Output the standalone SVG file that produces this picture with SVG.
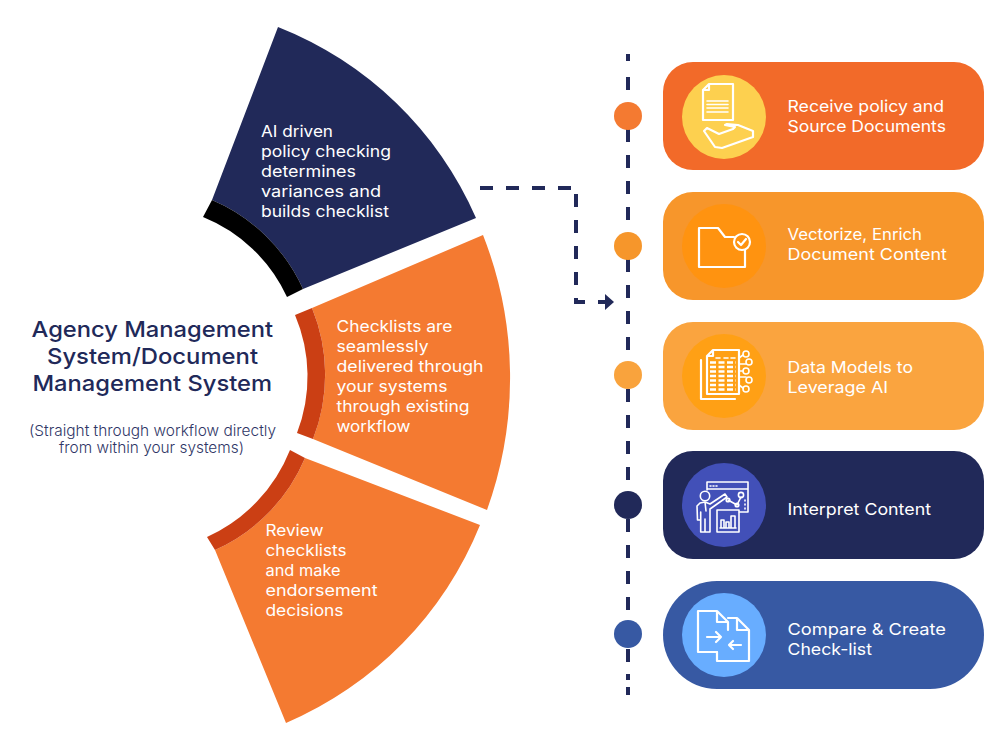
<svg xmlns="http://www.w3.org/2000/svg" width="1000" height="756" viewBox="0 0 1000 756">
<style>
text{font-family:"Inter","Open Sans","Liberation Sans",sans-serif;fill:#fff;font-size:16px}
.t{fill:#212959;font-size:22px;font-weight:500}
.s{fill:#2f3666;font-size:15px;font-weight:300}
.c{font-size:16.5px}
.navy{fill:#212959}.org{fill:#f47a31}.band{fill:#cb3f14}
.dash{fill:none;stroke:#212959;stroke-width:4}
.dd{stroke-dasharray:13 13}
.i{fill:none;stroke:#fff;stroke-width:1.6;stroke-linejoin:round;stroke-linecap:round}
.i2{fill:none;stroke:#fff;stroke-width:2.2;stroke-linejoin:round;stroke-linecap:round}
</style>
<defs>
<marker id="arrow" markerUnits="userSpaceOnUse" markerWidth="10" markerHeight="18" refX="1" refY="9" orient="auto"><path d="M0 1L9 9L0 17Z" fill="#212959"/></marker>
</defs>

<g id="connectors">
<path class="dash dd" d="M628 77V662"/>
<path class="dash" d="M628 54V61M628 674V680M628 687V695"/>
<path class="dash dd" d="M480 188H571"/>
<path class="dash dd" d="M576 194V285"/>
<path class="dash" d="M576 298V302H585"/>
<path class="dash" d="M598 302H606" marker-end="url(#arrow)"/>
</g>

<g id="sector-ai">
<path class="navy" d="M278 27A360 360 0 0 1 476 218L303 289A175 175 0 0 0 212 200Z"/>
<path fill="#000" d="M212 200A175 175 0 0 1 303 289L287 297A157 157 0 0 0 203 217Z"/>
<text x="261" y="137" textLength="72" lengthAdjust="spacingAndGlyphs">AI driven</text>
<text x="261" y="157" textLength="130" lengthAdjust="spacingAndGlyphs">policy checking</text>
<text x="261" y="177" textLength="95" lengthAdjust="spacingAndGlyphs">determines</text>
<text x="261" y="197" textLength="120" lengthAdjust="spacingAndGlyphs">variances and</text>
<text x="261" y="217" textLength="128" lengthAdjust="spacingAndGlyphs">builds checklist</text>
</g>

<g id="sector-delivery">
<path class="org" d="M483 235A390 390 0 0 1 487 510L313 439A176 176 0 0 0 312 308Z"/>
<path class="band" d="M312 308A176 176 0 0 1 313 439L297 433A157 157 0 0 0 295 315Z"/>
<text x="336.500" y="332" textLength="116" lengthAdjust="spacingAndGlyphs">Checklists are</text>
<text x="336.500" y="352" textLength="92" lengthAdjust="spacingAndGlyphs">seamlessly</text>
<text x="336.500" y="372" textLength="147" lengthAdjust="spacingAndGlyphs">delivered through</text>
<text x="336.500" y="392" textLength="111" lengthAdjust="spacingAndGlyphs">your systems</text>
<text x="336.500" y="412" textLength="133" lengthAdjust="spacingAndGlyphs">through existing</text>
<text x="336.500" y="432" textLength="74" lengthAdjust="spacingAndGlyphs">workflow</text>
</g>

<g id="sector-review">
<path class="org" d="M480 525A363 363 0 0 1 286 723L215 550A175 175 0 0 0 305 458Z"/>
<path class="band" d="M305 458A175 175 0 0 1 215 550L207 537A160 160 0 0 0 290 450Z"/>
<text x="265.500" y="536" textLength="58" lengthAdjust="spacingAndGlyphs">Review</text>
<text x="265.500" y="556" textLength="81" lengthAdjust="spacingAndGlyphs">checklists</text>
<text x="265.500" y="576" textLength="75" lengthAdjust="spacingAndGlyphs">and make</text>
<text x="265.500" y="596" textLength="112" lengthAdjust="spacingAndGlyphs">endorsement</text>
<text x="265.500" y="616" textLength="78" lengthAdjust="spacingAndGlyphs">decisions</text>
</g>

<g id="title">
<text class="t" x="31.500" y="337" textLength="241.500" lengthAdjust="spacingAndGlyphs">Agency Management</text>
<text class="t" x="47" y="364" textLength="211" lengthAdjust="spacingAndGlyphs">System/Document</text>
<text class="t" x="32.500" y="391" textLength="239.500" lengthAdjust="spacingAndGlyphs">Management System</text>
<text class="s" x="29" y="436" textLength="247" lengthAdjust="spacingAndGlyphs">(Straight through workflow directly</text>
<text class="s" x="59" y="453" textLength="185" lengthAdjust="spacingAndGlyphs">from within your systems)</text>
</g>

<g id="dots">
<circle cx="628" cy="116" r="14" fill="#f47a31"/>
<circle cx="628" cy="246" r="14" fill="#f6962b"/>
<circle cx="628" cy="375" r="14" fill="#f9a33d"/>
<circle cx="628" cy="505" r="14" fill="#212959"/>
<circle cx="628" cy="634" r="14" fill="#3759a3"/>
</g>

<g id="card-receive">
<rect x="663" y="62" width="321" height="108" rx="30" fill="#f26a29"/>
<circle cx="724" cy="117" r="42" fill="#fdd04f"/>
<path class="i2" d="M709 84H733V120H703V90ZM709 84V90H703"/>
<path class="i" d="M707 101H728M707 104.500H728M707 108H728M707 112H728"/>
<path class="i2" d="M704 131L707 128L719 134L733 129L735 127L725 125L727 124L738 125L753 131V137L722 148L715 147Z"/>
<text class="c" x="787.500" y="112" textLength="156.500" lengthAdjust="spacingAndGlyphs">Receive policy and</text>
<text class="c" x="787.500" y="132" textLength="158.500" lengthAdjust="spacingAndGlyphs">Source Documents</text>
</g>

<g id="card-vectorize">
<rect x="663" y="192" width="321" height="108" rx="30" fill="#f7962b"/>
<circle cx="724" cy="246" r="42" fill="#ff9310"/>
<path class="i2" d="M745 250V267H699V228H718L725 237H734"/>
<circle class="i2" cx="742" cy="242" r="8"/>
<path class="i2" d="M738 242L741 245L746 239"/>
<text class="c" x="787.500" y="240" textLength="134.500" lengthAdjust="spacingAndGlyphs">Vectorize, Enrich</text>
<text class="c" x="787.500" y="260" textLength="159.500" lengthAdjust="spacingAndGlyphs">Document Content</text>
</g>

<g id="card-models">
<rect x="663" y="322" width="321" height="108" rx="30" fill="#faa43f"/>
<circle cx="724" cy="376" r="42" fill="#ffa015"/>
<path class="i2" d="M713 350H739V394H707V356ZM713 350V356H707"/>
<path class="i2" d="M701 360V399H735"/>
<path class="i" d="M716 358H720M724 358H728M731 358H735"/>
<path d="M710 362.500H736M710 367H736M710 371.500H736M710 376H736M710 380.500H736M710 385H736M710 389.500H736" fill="none" stroke="#fff" stroke-width="2.400" stroke-dasharray="6 2.500"/>
<path class="i" d="M739 358L743 355M739 364H746M739 371H743M739 377H746M739 385L743 388"/>
<circle class="i" cx="746" cy="354" r="3"/>
<circle class="i" cx="749" cy="362" r="3"/>
<circle class="i" cx="746" cy="371" r="3"/>
<circle class="i" cx="749" cy="380" r="3"/>
<circle class="i" cx="746" cy="389" r="3"/>
<text class="c" x="787.500" y="373" textLength="125.500" lengthAdjust="spacingAndGlyphs">Data Models to</text>
<text class="c" x="787.500" y="393" textLength="100.500" lengthAdjust="spacingAndGlyphs">Leverage AI</text>
</g>

<g id="card-interpret">
<rect x="663" y="451" width="321" height="108" rx="30" fill="#212959"/>
<circle cx="724" cy="505" r="42" fill="#4250b8"/>
<path class="i" d="M707 490V482H748V512H739.500M707 489H748"/>
<path class="i" d="M710 486H711M713 486H714M716 486H717"/>
<circle class="i" cx="705" cy="496" r="4.700"/>
<path class="i" d="M700 520H697.500L697 506L700 503L705 502L710 504L725 494L727 497L710 509V532H700.700V512M705 519V532M705 502L706 511"/>
<path class="i" d="M728 500L737 505L741 497"/>
<circle class="i" cx="728" cy="500" r="1.800"/>
<circle class="i" cx="737" cy="505" r="1.800"/>
<circle class="i" cx="741" cy="495" r="2.600"/>
<path class="i" d="M745 500V501M745 504V505M745 508V509"/>
<rect class="i" x="717" y="510" width="22" height="22"/>
<path class="i" d="M721 528V520H724V528M726 528V522H729V528M731 528V516H735V528M720 528H736"/>
<text class="c" x="787.500" y="515" textLength="143.500" lengthAdjust="spacingAndGlyphs">Interpret Content</text>
</g>

<g id="card-compare">
<rect x="663" y="581" width="321" height="108" rx="54" fill="#3759a3"/>
<circle cx="724" cy="635" r="42" fill="#68adff"/>
<path class="i2" d="M717 652H698V611H717L728 622V630M717 611V622H728"/>
<path class="i2" d="M728 618H737L749 630V661H717V652M737 618V630H749"/>
<path class="i2" d="M707 637H721M716 632L721 637L716 642"/>
<path class="i2" d="M741 645H729M733 641L729 645L733 649"/>
<text class="c" x="787.500" y="635" textLength="158.500" lengthAdjust="spacingAndGlyphs">Compare &amp; Create</text>
<text class="c" x="787.500" y="655" textLength="84.500" lengthAdjust="spacingAndGlyphs">Check-list</text>
</g>
</svg>
